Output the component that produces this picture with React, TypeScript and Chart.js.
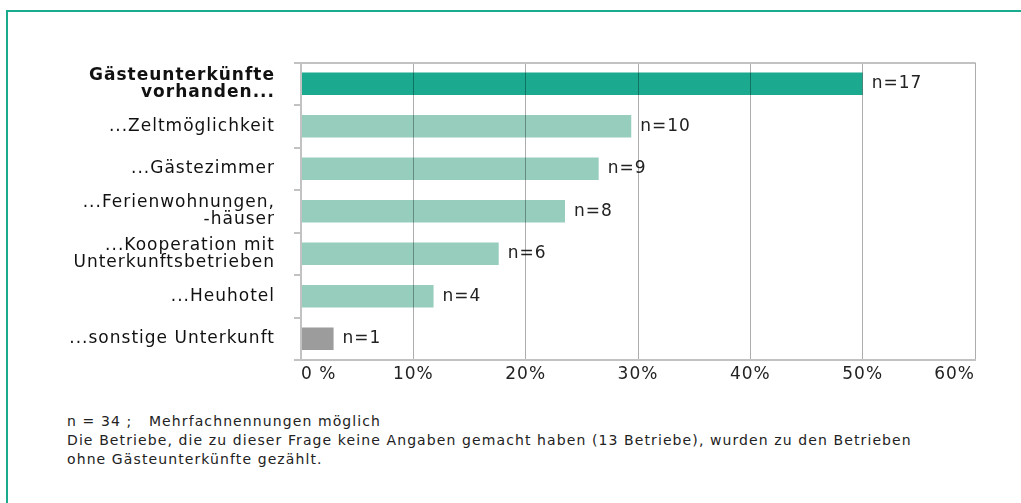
import React, { useEffect, useRef } from "react";
import { Chart, registerables } from "chart.js";

Chart.register(...registerables);

const categories: (string | string[])[] = [
  ["Gästeunterkünfte", "vorhanden..."],
  "...Zeltmöglichkeit",
  "...Gästezimmer",
  ["...Ferienwohnungen,", "-häuser"],
  ["...Kooperation mit", "Unterkunftsbetrieben"],
  "...Heuhotel",
  "...sonstige Unterkunft",
];
const percentValues = [50, 29.4, 26.5, 23.5, 17.6, 11.8, 2.9];
const countLabels = ["n=17", "n=10", "n=9", "n=8", "n=6", "n=4", "n=1"];
const barColors = ["#1ba98f", "#96cdbd", "#96cdbd", "#96cdbd", "#96cdbd", "#96cdbd", "#9c9c9c"];
const xTickLabels = ["0 %", "10%", "20%", "30%", "40%", "50%", "60%"];
const footerLines = [
  "n = 34 ;   Mehrfachnennungen möglich",
  "Die Betriebe, die zu dieser Frage keine Angaben gemacht haben (13 Betriebe), wurden zu den Betrieben",
  "ohne Gästeunterkünfte gezählt.",
];

const FONT = "'DejaVu Sans', Verdana, sans-serif";
const GRID = "rgba(0,0,0,0.32)";
const BORDER = "#c2c2c2";

const spacingPlugin = {
  id: "letterSpacing",
  beforeUpdate(chart: any) {
    chart.ctx.letterSpacing = "1px";
  },
  beforeDraw(chart: any) {
    chart.ctx.letterSpacing = "1px";
  },
};

const countLabelPlugin = {
  id: "countLabels",
  afterDatasetsDraw(chart: any) {
    const ctx = chart.ctx;
    const meta = chart.getDatasetMeta(0);
    ctx.save();
    ctx.letterSpacing = "1px";
    ctx.font = `17px ${FONT}`;
    ctx.fillStyle = "#222";
    ctx.textBaseline = "middle";
    ctx.textAlign = "left";
    meta.data.forEach((bar: any, i: number) => {
      ctx.fillText(countLabels[i], bar.x + 9, bar.y);
    });
    ctx.restore();
  },
};

export default function App() {
  const canvasRef = useRef<HTMLCanvasElement | null>(null);

  useEffect(() => {
    if (!canvasRef.current) return;
    const chart = new Chart(canvasRef.current, {
      type: "bar",
      data: {
        labels: categories,
        datasets: [
          {
            data: percentValues,
            backgroundColor: barColors,
            borderWidth: 0,
            barPercentage: 0.53,
            categoryPercentage: 1,
          },
        ],
      },
      options: {
        indexAxis: "y",
        animation: false,
        responsive: false,
        maintainAspectRatio: false,
        layout: { padding: { top: 0, right: 33, bottom: 0, left: 0 } },
        plugins: {
          legend: { display: false },
          tooltip: { enabled: false },
          title: { display: false },
        },
        scales: {
          x: {
            min: 0,
            max: 60,
            afterFit: (scale: any) => {
              scale.height = 39;
            },
            ticks: {
              stepSize: 10,
              align: "inner",
              padding: 4,
              color: "#222",
              font: { family: FONT, size: 17 },
              callback: (_v: any, i: number) => xTickLabels[i],
            },
            grid: {
              color: GRID,
              lineWidth: 1,
              tickLength: 0,
              z: 1,
            },
            border: { color: BORDER, width: 2, z: 1 },
          },
          y: {
            afterFit: (scale: any) => {
              scale.width = 293;
            },
            ticks: {
              padding: 19,
              color: "#111",
              font: (c: any) =>
                c.index === 0
                  ? { family: FONT, size: 17, weight: "bold", lineHeight: 1.0 }
                  : { family: FONT, size: 17, lineHeight: 1.0 },
            },
            grid: {
              offset: true,
              drawOnChartArea: true,
              tickLength: 7,
              lineWidth: 2,
              color: (c: any) => (c.index === 0 ? BORDER : "rgba(0,0,0,0)"),
              tickColor: BORDER,
              z: 1,
            },
            border: { color: BORDER, width: 2, z: 1 },
          },
        },
      },
      plugins: [spacingPlugin, countLabelPlugin],
    });
    return () => chart.destroy();
  }, []);

  return (
    <div
      style={{
        position: "fixed",
        left: 0,
        top: 0,
        width: 1021,
        height: 503,
        overflow: "hidden",
        background: "#fff",
      }}
    >
      <div
        style={{
          position: "absolute",
          left: 6,
          top: 10,
          width: 1100,
          height: 600,
          borderTop: "2px solid #1aab8e",
          borderLeft: "2px solid #1aab8e",
          boxSizing: "border-box",
        }}
      />
      <canvas
        ref={canvasRef}
        width={1000}
        height={364}
        style={{ position: "absolute", left: 8, top: 35, width: 1000, height: 364 }}
      />
      <div
        style={{
          position: "absolute",
          left: 67,
          top: 412,
          fontFamily: FONT,
          fontSize: 14,
          letterSpacing: "1.1px",
          lineHeight: "19px",
          color: "#222",
          whiteSpace: "pre",
        }}
      >
        {footerLines.map((l, i) => (
          <div key={i}>{l}</div>
        ))}
      </div>
    </div>
  );
}
